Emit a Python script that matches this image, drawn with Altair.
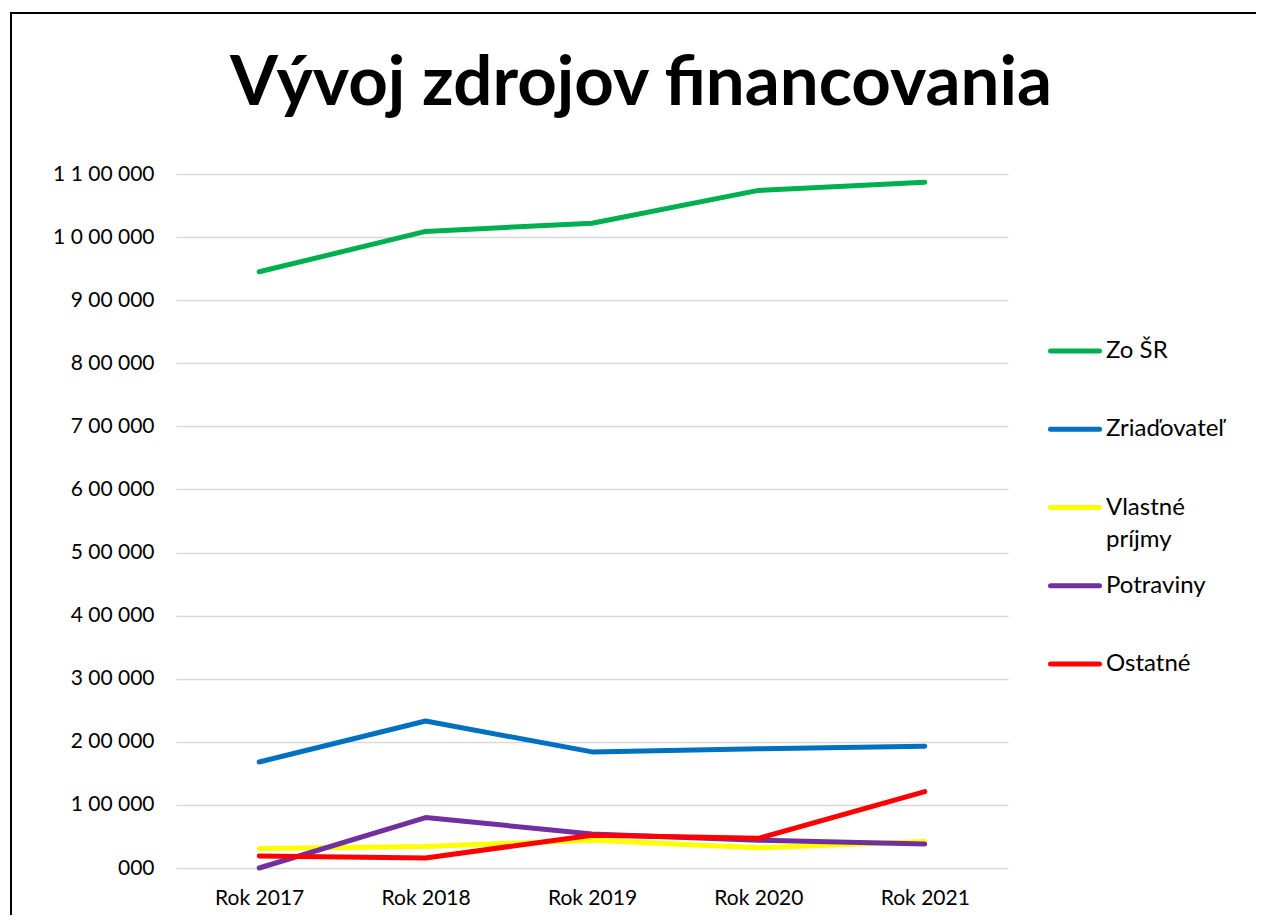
import altair as alt
import pandas as pd

title_text = "Vývoj zdrojov financovania"
years = ["Rok 2017", "Rok 2018", "Rok 2019", "Rok 2020", "Rok 2021"]
series = ["Zo ŠR", "Zriaďovateľ", "Vlastné príjmy", "Potraviny", "Ostatné"]
legend_labels = ["Zo ŠR", "Zriaďovateľ", "Vlastné\npríjmy", "Potraviny", "Ostatné"]
colors = ["#00B050", "#0070C0", "#FFFF00", "#7030A0", "#FF0000"]
zo_sr = [945000, 1009000, 1022000, 1074000, 1087000]
zriadovatel = [168000, 233000, 184000, 189000, 193000]
vlastne = [31000, 34000, 44000, 32000, 42000]
potraviny = [0, 80000, 54000, 44000, 38000]
ostatne = [19000, 16000, 52000, 47000, 121000]
y_labels = ["000", "1 00 000", "2 00 000", "3 00 000", "4 00 000", "5 00 000",
            "6 00 000", "7 00 000", "8 00 000", "9 00 000", "1 0 00 000", "1 1 00 000"]

rows = []
for s_i, (name, vals) in enumerate(zip(series, [zo_sr, zriadovatel, vlastne, potraviny, ostatne])):
    for y, v in zip(years, vals):
        rows.append({"rok": y, "zdroj": name, "hodnota": v, "poradie": s_i})
df = pd.DataFrame(rows)

leg_df = pd.DataFrame({"zdroj": series, "label": legend_labels, "idx": list(range(len(series)))})

label_arr = "[" + ",".join("'" + l + "'" for l in y_labels) + "]"
color_scale = alt.Scale(domain=series, range=colors)

lines = alt.Chart(df).mark_line(strokeWidth=5, strokeCap="round", strokeJoin="round").encode(
    x=alt.X("rok:N", sort=years, title=None,
            scale=alt.Scale(type="point", padding=0.5),
            axis=alt.Axis(labelAngle=0, labelFontSize=21, labelFont="Lato", labelColor="#000000",
                          labelPadding=19, domain=False, ticks=False, grid=False)),
    y=alt.Y("hodnota:Q", title=None,
            scale=alt.Scale(domain=[0, 1100000], nice=False),
            axis=alt.Axis(values=[i * 100000 for i in range(12)],
                          labelExpr=label_arr + "[round(datum.value/100000)]",
                          labelFontSize=21, labelFont="Lato", labelColor="#000000",
                          labelPadding=22, domain=False, ticks=False,
                          grid=True, gridColor="#D9D9D9", gridWidth=1.3)),
    color=alt.Color("zdroj:N", sort=series, scale=color_scale, legend=None),
    order=alt.Order("poradie:Q"),
    detail="zdroj:N",
)

leg_y = alt.Y("idx:Q", scale=alt.Scale(domain=[0, 4], range=[177, 490]), axis=None)
leg_rules = alt.Chart(leg_df).mark_rule(strokeWidth=5, strokeCap="round").encode(
    x=alt.value(874.5), x2=alt.value(923.5), y=leg_y,
    color=alt.Color("zdroj:N", scale=color_scale, legend=None))
leg_text = alt.Chart(leg_df).mark_text(align="left", baseline="middle", fontSize=24, font="Lato",
                                       color="#000000", lineBreak="\n", lineHeight=32).encode(
    x=alt.value(930), y=leg_y, text="label:N")
legend = alt.layer(leg_rules, leg_text)

one = pd.DataFrame({"a": [0]})
title = alt.Chart(one).mark_text(text=title_text, font="Lato", fontSize=69, fontWeight="bold",
                                 color="#000000", align="center", baseline="alphabetic").encode(
    x=alt.value(465), y=alt.value(-69))
left_rule = alt.Chart(one).mark_rule(color="#000000", strokeWidth=2).encode(
    x=alt.value(-165), y=alt.value(-161), y2=alt.value(900))
top_rule = alt.Chart(one).mark_rule(color="#000000", strokeWidth=2).encode(
    x=alt.value(-166), x2=alt.value(1200), y=alt.value(-161))

chart = alt.layer(lines, legend, title, left_rule, top_rule).resolve_scale(y="independent").properties(
    width=832, height=694,
    autosize=alt.AutoSizeParams(type="none"),
    padding={"left": 168, "top": 166, "right": 248, "bottom": 47},
).configure_view(stroke=None)

chart.save("out.html", embed_options={"renderer": "svg", "actions": False})
